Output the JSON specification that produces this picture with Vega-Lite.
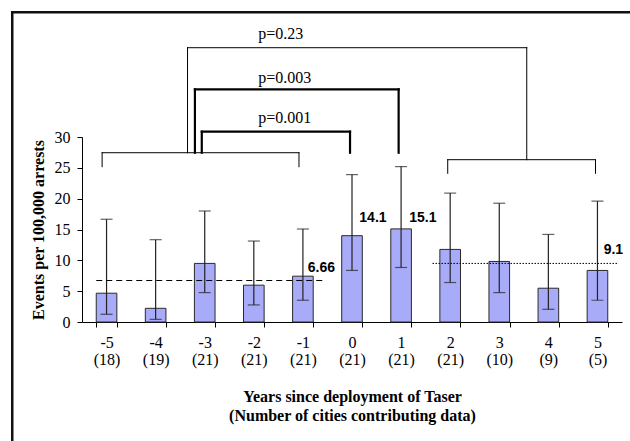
{
  "$schema": "https://vega.github.io/schema/vega-lite/v6.json",
  "width": 540,
  "height": 185,
  "padding": {"left": 10, "top": 10, "right": 0, "bottom": 0},
  "background": "white",
  "config": {
    "view": {"stroke": null},
    "axis": {"grid": false, "domainColor": "#000", "tickColor": "#000", "labelColor": "#000", "titleColor": "#000", "labelFont": "Liberation Serif", "labelFontSize": 16, "titleFont": "Liberation Serif"},
    "axisY": {"labelFont": "Liberation Serif", "labelFontSize": 16}
  },
  "datasets": {
    "bars": [
      {"year": -5, "label": "-5|(18)", "rate": 4.67, "lo": 1.25, "hi": 16.66},
      {"year": -4, "label": "-4|(19)", "rate": 2.22, "lo": 0.43, "hi": 13.35},
      {"year": -3, "label": "-3|(21)", "rate": 9.5, "lo": 4.77, "hi": 18.0},
      {"year": -2, "label": "-2|(21)", "rate": 5.97, "lo": 2.77, "hi": 13.13},
      {"year": -1, "label": "-1|(21)", "rate": 7.43, "lo": 3.53, "hi": 15.08},
      {"year": 0, "label": "0|(21)", "rate": 14.0, "lo": 8.36, "hi": 23.9},
      {"year": 1, "label": "1|(21)", "rate": 15.1, "lo": 8.84, "hi": 25.2},
      {"year": 2, "label": "2|(21)", "rate": 11.77, "lo": 6.4, "hi": 20.9},
      {"year": 3, "label": "3|(10)", "rate": 9.82, "lo": 4.77, "hi": 19.26},
      {"year": 4, "label": "4|(9)", "rate": 5.48, "lo": 2.06, "hi": 14.2},
      {"year": 5, "label": "5|(5)", "rate": 8.36, "lo": 3.53, "hi": 19.6}
    ],
    "frame": [
      {"x": -6.921, "x2": 5.72, "y": 50.23, "y2": 50.23},
      {"x": -6.921, "x2": -6.921, "y": 50.23, "y2": -19.7}
    ],
    "means": [
      {"period": "before", "x": -5.21, "x2": -0.59, "level": 6.73},
      {"period": "after", "x": 1.64, "x2": 5.43, "level": 9.5}
    ],
    "segs": [
      {"sig": "no", "x": -5.09, "x2": -5.09, "y": 25.18, "y2": 27.45},
      {"sig": "no", "x": -5.09, "x2": -1.08, "y": 27.45, "y2": 27.45},
      {"sig": "no", "x": -1.08, "x2": -1.08, "y": 27.45, "y2": 25.18},
      {"sig": "no", "x": 1.95, "x2": 1.95, "y": 24.11, "y2": 26.32},
      {"sig": "no", "x": 1.95, "x2": 4.96, "y": 26.32, "y2": 26.32},
      {"sig": "no", "x": 4.96, "x2": 4.96, "y": 26.32, "y2": 24.11},
      {"sig": "no", "x": -3.35, "x2": -3.35, "y": 27.45, "y2": 44.48},
      {"sig": "no", "x": -3.35, "x2": 3.56, "y": 44.48, "y2": 44.48},
      {"sig": "no", "x": 3.56, "x2": 3.56, "y": 44.48, "y2": 26.32},
      {"sig": "yes", "x": -3.2, "x2": -3.2, "y": 27.45, "y2": 37.73},
      {"sig": "yes", "x": -3.2, "x2": 0.95, "y": 37.73, "y2": 37.73},
      {"sig": "yes", "x": 0.95, "x2": 0.95, "y": 37.73, "y2": 27.45},
      {"sig": "yes", "x": -3.06, "x2": -3.06, "y": 27.45, "y2": 30.86},
      {"sig": "yes", "x": -3.06, "x2": -0.04, "y": 30.86, "y2": 30.86},
      {"sig": "yes", "x": -0.04, "x2": -0.04, "y": 30.86, "y2": 27.45}
    ],
    "plabels": [
      {"text": "p=0.23", "x": -1.909, "y": 45.9},
      {"text": "p=0.003", "x": -1.909, "y": 38.8},
      {"text": "p=0.001", "x": -1.909, "y": 32.3}
    ],
    "numlabels": [
      {"text": "6.66", "x": -0.902, "y": 8.16},
      {"text": "14.1", "x": 0.149, "y": 16.27},
      {"text": "15.1", "x": 1.167, "y": 16.27},
      {"text": "9.1", "x": 5.127, "y": 10.97}
    ]
  },
  "resolve": {"scale": {"x": "independent"}, "axis": {"y": "independent"}},
  "layer": [
    {
      "data": {"name": "bars"},
      "mark": {"type": "bar", "fill": "#a8abf7", "stroke": "#2a2a2a", "strokeWidth": 1},
      "encoding": {
        "x": {
          "field": "label", "type": "nominal", "sort": null,
          "scale": {"paddingInner": 0.58, "paddingOuter": 0.29},
          "axis": {
            "title": ["Years since deployment of Taser", "(Number of cities contributing data)"],
            "titleFont": "Liberation Serif", "titleFontSize": 16, "titleFontWeight": "bold", "titleLineHeight": 19, "titlePadding": 21,
            "labelExpr": "split(datum.label, '|')", "labelFont": "Liberation Serif", "labelFontSize": 16, "labelLineHeight": 17,
            "labelPadding": 7, "labelAngle": 0, "tickBand": "extent", "tickSize": 5
          }
        },
        "y": {
          "field": "rate", "type": "quantitative",
          "scale": {"domain": [0, 30], "nice": false, "zero": false},
          "axis": {
            "orient": "left",
            "title": "Events per 100,000 arrests", "titleFont": "Liberation Serif", "titleFontSize": 16, "titleFontWeight": "bold", "titlePadding": 8,
            "values": [0, 5, 10, 15, 20, 25, 30], "labelOverlap": false, "labelFont": "Liberation Serif", "labelFontSize": 16, "labelPadding": 7, "tickSize": 5
          }
        }
      }
    },
    {
      "data": {"name": "frame"},
      "mark": {"type": "rule", "color": "#111", "strokeWidth": 2.5, "strokeCap": "square"},
      "encoding": {
        "x": {"field": "x", "type": "quantitative", "scale": {"domain": [-5.5, 5.5], "nice": false, "zero": false}, "axis": null},
        "x2": {"field": "x2"},
        "y": {"field": "y", "type": "quantitative", "scale": {"domain": [0, 30], "nice": false, "zero": false}, "axis": null},
        "y2": {"field": "y2"}
      }
    },
    {
      "data": {"name": "bars"},
      "mark": {"type": "rule", "color": "#222", "strokeWidth": 1.2},
      "encoding": {
        "x": {"field": "year", "type": "quantitative", "scale": {"domain": [-5.5, 5.5], "nice": false, "zero": false}, "axis": null},
        "y": {"field": "lo", "type": "quantitative", "scale": {"domain": [0, 30], "nice": false, "zero": false}, "axis": null},
        "y2": {"field": "hi"}
      }
    },
    {
      "data": {"name": "bars"},
      "mark": {"type": "tick", "orient": "horizontal", "color": "#222", "size": 12, "thickness": 1.2},
      "encoding": {
        "x": {"field": "year", "type": "quantitative", "scale": {"domain": [-5.5, 5.5], "nice": false, "zero": false}, "axis": null},
        "y": {"field": "hi", "type": "quantitative", "scale": {"domain": [0, 30], "nice": false, "zero": false}, "axis": null}
      }
    },
    {
      "data": {"name": "bars"},
      "mark": {"type": "tick", "orient": "horizontal", "color": "#222", "size": 12, "thickness": 1.2},
      "encoding": {
        "x": {"field": "year", "type": "quantitative", "scale": {"domain": [-5.5, 5.5], "nice": false, "zero": false}, "axis": null},
        "y": {"field": "lo", "type": "quantitative", "scale": {"domain": [0, 30], "nice": false, "zero": false}, "axis": null}
      }
    },
    {
      "data": {"name": "means"},
      "mark": {"type": "rule", "color": "#000", "strokeWidth": 1},
      "encoding": {
        "x": {"field": "x", "type": "quantitative", "scale": {"domain": [-5.5, 5.5], "nice": false, "zero": false}, "axis": null},
        "x2": {"field": "x2"},
        "y": {"field": "level", "type": "quantitative", "scale": {"domain": [0, 30], "nice": false, "zero": false}, "axis": null},
        "strokeDash": {"field": "period", "type": "nominal", "scale": {"domain": ["before", "after"], "range": [[6, 4], [1.5, 1.5]]}, "legend": null}
      }
    },
    {
      "data": {"name": "segs"},
      "mark": {"type": "rule", "color": "#000", "strokeCap": "square"},
      "encoding": {
        "x": {"field": "x", "type": "quantitative", "scale": {"domain": [-5.5, 5.5], "nice": false, "zero": false}, "axis": null},
        "x2": {"field": "x2"},
        "y": {"field": "y", "type": "quantitative", "scale": {"domain": [0, 30], "nice": false, "zero": false}, "axis": null},
        "y2": {"field": "y2"},
        "strokeWidth": {"field": "sig", "type": "ordinal", "scale": {"domain": ["no", "yes"], "range": [1, 2.2]}, "legend": null}
      }
    },
    {
      "data": {"name": "plabels"},
      "mark": {"type": "text", "align": "left", "baseline": "alphabetic", "font": "Liberation Serif", "fontSize": 16, "color": "#000"},
      "encoding": {
        "x": {"field": "x", "type": "quantitative", "scale": {"domain": [-5.5, 5.5], "nice": false, "zero": false}, "axis": null},
        "y": {"field": "y", "type": "quantitative", "scale": {"domain": [0, 30], "nice": false, "zero": false}, "axis": null},
        "text": {"field": "text"}
      }
    },
    {
      "data": {"name": "numlabels"},
      "mark": {"type": "text", "align": "left", "baseline": "alphabetic", "font": "Liberation Sans", "fontSize": 14, "fontWeight": "bold", "color": "#000"},
      "encoding": {
        "x": {"field": "x", "type": "quantitative", "scale": {"domain": [-5.5, 5.5], "nice": false, "zero": false}, "axis": null},
        "y": {"field": "y", "type": "quantitative", "scale": {"domain": [0, 30], "nice": false, "zero": false}, "axis": null},
        "text": {"field": "text"}
      }
    }
  ]
}
